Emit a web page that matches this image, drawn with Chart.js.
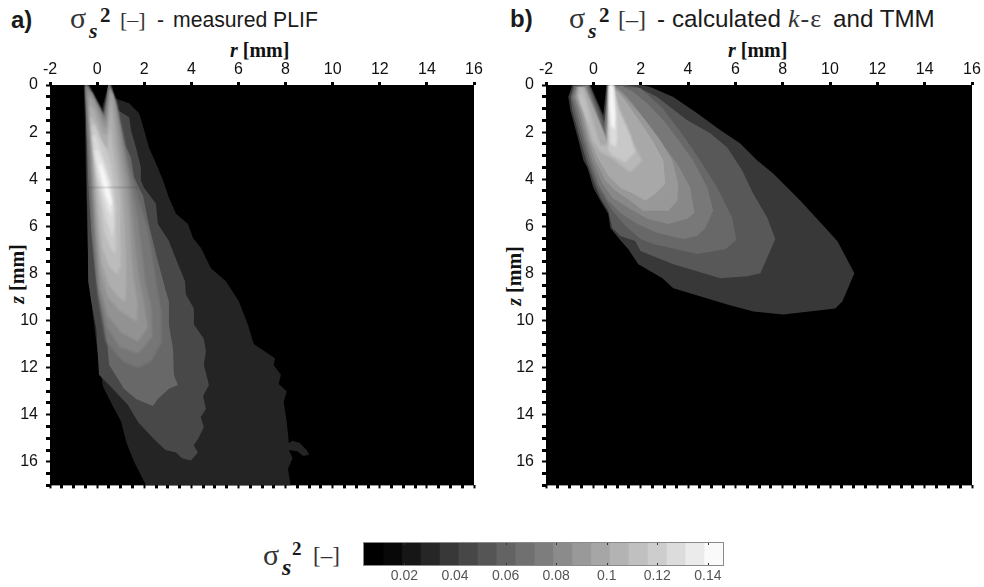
<!DOCTYPE html>
<html lang="en">
<head>
<meta charset="UTF-8">
<title>Mixture fraction variance</title>
<script src="https://cdn.jsdelivr.net/npm/chart.js"></script>
<style>
    html, body { margin: 0; padding: 0; background: #fff; width: 984px; height: 587px; overflow: hidden; }
    canvas { position: absolute; }
    .lbl { position: absolute; white-space: nowrap; color: #1a1a1a; font: 21.2px "Liberation Sans", Arial, sans-serif; line-height: 24px; }
    .big { font-size: 24.2px; }
    .serif { font-family: "Liberation Serif", serif; color: #333; }
    .sub { position: absolute; left: 19px; top: 12px; color: #1a1a1a; font: italic bold 22px "Liberation Serif", serif; }
    .sup { position: absolute; left: 30px; top: -3px; color: #1a1a1a; font: bold 21px "Liberation Serif", serif; }
    .axt { position: absolute; white-space: nowrap; color: #111; font: bold 20px "Liberation Serif", serif; line-height: 20px; }
</style>
</head>
<body>
<div class="lbl" style="left:11px;top:8px;font-size:24px"><b>a)</b></div>
<div class="lbl serif" style="left:70px;top:6px;font-size:30px">σ<span class="sub">s</span><span class="sup">2</span></div>
<div class="lbl serif" style="left:120px;top:8px;font-size:22px">[–]</div>
<div class="lbl" style="left:157px;top:8px">-</div>
<div class="lbl" style="left:173px;top:8px">measured PLIF</div>
<div class="lbl" style="left:510px;top:7px;font-size:24px"><b>b)</b></div>
<div class="lbl serif" style="left:569px;top:6px;font-size:30px">σ<span class="sub">s</span><span class="sup">2</span></div>
<div class="lbl serif" style="left:618px;top:7px;font-size:24px">[–]</div>
<div class="lbl big" style="left:657px;top:7px">-</div>
<div class="lbl big" style="left:672px;top:7px">calculated</div>
<div class="lbl serif" style="left:788px;top:7px;font-size:26px;letter-spacing:1px"><i>k</i>-ε</div>
<div class="lbl big" style="left:833px;top:7px">and TMM</div>
<div class="axt" style="left:230px;top:40px"><i>r</i> [mm]</div>
<div class="axt" style="left:728px;top:40px"><i>r</i> [mm]</div>
<div class="axt" style="left:-13px;top:264px;transform:rotate(-90deg)"><i>z</i> [mm]</div>
<div class="axt" style="left:484px;top:266px;transform:rotate(-90deg)"><i>z</i> [mm]</div>
<div class="lbl serif" style="left:263px;top:543px;font-size:30px">σ<span class="sub" style="top:11px;font-size:24px">s</span><span class="sup" style="top:-5px;left:29px;font-size:19px">2</span></div>
<div class="lbl serif" style="left:313px;top:544px;font-size:23px">[–]</div>

<canvas id="plif" width="492" height="503" style="left:0;top:0"></canvas>
<canvas id="calc" width="488" height="503" style="left:496px;top:0"></canvas>
<canvas id="bar" width="400" height="52" style="left:340px;top:535px"></canvas>

<script>
// contour outlines, [r, z] in mm, outermost first
const plifBand1 = [[-.55,0],[-.47,4.06],[-.42,6.2],[-.34,8.33],[-.17,9.83],[-.04,10.9],[.25,12.8],[.6,13.5],[1.02,14.3],[1.25,15.2],[1.57,16],[2.08,17],[8.22,17],[8.1,16.3],[8.3,15.85],[8.14,15.5],[8.5,15.55],[8.75,15.75],[9,15.7],[8.9,15.5],[8.6,15.2],[8.3,15.1],[8.14,15.2],[8.05,14.3],[7.92,13.46],[8.05,13],[7.71,12.7],[7.8,12.3],[7.5,11.9],[7.55,11.6],[7.25,11.4],[6.65,11],[6.4,10.17],[6.02,9.19],[5.47,8.33],[4.83,7.78],[4.41,6.92],[4.07,6.5],[3.86,5.9],[3.35,5.47],[3.05,4.79],[2.8,4.06],[2.5,3.33],[2.2,2.65],[2,1.92],[1.78,1.2],[1.36,.77],[.72,.55],[.63,0],[.47,0],[.21,.98],[-.34,0]];
const plifBand2 = [[-.5,0],[-.46,1.5],[-.44,4],[-.4,6.2],[-.38,8.33],[-.25,9.19],[-.04,10.34],[.04,11.62],[.08,12.3],[.59,12.82],[1.31,13.59],[1.74,14.32],[2.42,15.04],[2.9,15.5],[3.35,15.6],[3.6,15.85],[3.98,15.94],[4.28,15.6],[4.1,15.3],[4.28,15.04],[4.53,14.53],[4.4,14.1],[4.62,13.76],[4.5,13.2],[4.75,12.74],[4.53,11.88],[4.62,11.3],[4.53,10.77],[4.11,10.17],[4.11,9.49],[3.77,8.89],[3.73,8.33],[3.43,7.6],[3.05,6.62],[2.58,5.9],[2.5,5.04],[1.99,4.36],[1.86,4.06],[1.86,3.5],[1.65,2.65],[1.44,1.92],[1.36,1.37],[.89,1.07],[.68,.77],[.55,0],[.47,0],[.25,1.15],[-.38,0]];
const plifBand3 = [[-.51,.04],[-.38,4.06],[-.25,6.2],[-.04,8.33],[.17,9.32],[.38,10.47],[.51,11.88],[1.14,12.9],[1.65,13.33],[2.37,13.63],[2.58,13.33],[3.05,12.9],[3.43,12.74],[3.26,12.31],[3.22,11.2],[3.05,10.17],[3.05,9.19],[2.92,8.76],[2.5,7.18],[2.16,5.77],[1.95,4.7],[1.57,3.93],[1.44,3.08],[1.02,2.22],[.81,1.2],[.72,.64],[.55,0],[.47,0],[.3,1.28],[-.47,0]];
const plifBand4 = [[-.51,.04],[-.3,4.06],[-.17,6.62],[.04,8.97],[.38,10.9],[1.1,11.75],[1.74,12.01],[2.29,11.75],[2.75,10.9],[2.72,9.6],[2.5,8.3],[2.35,7.26],[2.15,6.11],[1.75,4.83],[1.4,3.55],[1.06,1.92],[.72,.64],[.55,.04],[.3,1.37],[-.47,.04]];
const plifBand5 = [[-.47,.04],[-.25,4.06],[-.08,6.62],[.08,8.76],[.42,10.26],[.93,11.11],[1.74,11.41],[2.35,10.7],[2.3,9.4],[2.05,8.4],[1.9,7.1],[1.75,5.85],[1.5,4.49],[1.2,2.99],[.85,.85],[.55,.04],[.34,1.41],[.17,1.15],[-.38,.04]];
const plifBand6 = [[-.42,.21],[-.21,4.06],[-.04,6.62],[.12,8.55],[.45,9.8],[1,10.5],[1.74,10.9],[2.15,10.3],[1.95,9],[1.75,8],[1.6,6.6],[1.5,5.56],[1.35,4.19],[1.1,2.78],[.76,.64],[.55,.13],[.38,1.58],[.21,1.41],[-.21,.34]];
const plifBand7 = [[-.38,.43],[-.17,3.85],[0,6.41],[.15,7.91],[.45,9],[.95,9.6],[1.7,10.05],[1.72,9.2],[1.55,8.2],[1.45,7.05],[1.35,5.43],[1.2,4.15],[.97,2.78],[.68,.43],[.55,.21],[.42,1.84],[.25,1.71],[-.17,.64]];
const plifBand8 = [[-.34,.85],[-.13,3.85],[.04,5.98],[.18,7.48],[.5,8.5],[.9,9],[1.2,9.2],[1.25,8.4],[1.22,7.05],[1.15,5.4],[1.02,3.97],[.81,2.56],[.59,.64],[.42,2.14],[.21,2.01],[-.17,.98]];
const plifBand9 = [[-.3,1.28],[-.08,3.85],[.08,5.56],[.22,6.9],[.5,7.7],[.85,8.05],[1,7.7],[.98,6.3],[.98,4.95],[.85,3.85],[.68,2.78],[.55,1.71],[.42,2.78],[.17,2.35],[-.08,1.58]];
const plifBand10 = [[-.25,1.71],[-.04,3.85],[.13,4.91],[.3,6.2],[.55,6.9],[.75,7.2],[.8,6.7],[.78,6],[.8,5.2],[.75,4.49],[.59,3.42],[.42,2.78],[.08,2.14],[-.08,1.71]];
const plifBand11 = [[-.21,2.14],[0,3.85],[.21,4.91],[.38,5.7],[.55,6.2],[.65,6.5],[.72,6],[.72,5.3],[.65,4.49],[.42,3.55],[.17,2.78],[-.04,2.14]];
const plifBand12 = [[-.13,2.78],[.08,3.85],[.3,4.79],[.45,5.3],[.6,5.6],[.65,5.2],[.62,4.8],[.51,4.06],[.25,3.29],[.04,2.78]];
const plifBand13 = [[.08,3.42],[.21,4.06],[.38,4.7],[.55,5.13],[.64,5.04],[.51,4.49],[.34,3.85],[.17,3.33]];
const plifGrays = ['#242424','#484848','#686868','#767676','#848484','#929292','#a0a0a0','#aeaeae','#bcbcbc','#cacaca','#d8d8d8','#e6e6e6','#f8f8f8'];
const plifSeam = [[-.4,4.35],[1.75,4.35]];

const calcBand1 = [[-.89,0],[-1.06,.51],[-.97,1.07],[-.63,2.35],[-.42,3.21],[-.25,3.5],[0,4.36],[.3,4.91],[.63,5.47],[.72,6.07],[1.06,6.5],[1.48,6.97],[1.9,7.61],[2.92,8.21],[3.38,8.63],[5.66,9.32],[6.76,9.62],[8.03,9.74],[10.22,9.49],[10.52,9.19],[11.03,7.99],[10.31,6.62],[8.75,4.91],[7.6,3.76],[6.93,3.21],[6.21,2.48],[5.37,1.92],[4.39,1.2],[3.38,.51],[2.41,.09],[1.99,0],[.55,0],[.42,1.28],[-.13,0]];
const calcBand2 = [[-.84,.04],[-.97,.51],[-.89,1.07],[-.55,2.35],[-.3,3.21],[.08,4.27],[.3,4.79],[.63,5.34],[.8,6.07],[1.14,6.41],[1.77,6.62],[1.99,7.05],[3.38,7.61],[5.37,8.21],[6.51,8.12],[7.06,7.99],[7.69,6.54],[7.35,5.64],[6.76,4.62],[6.29,3.63],[5.66,2.65],[4.94,2.05],[3.97,1.5],[2.7,.51],[1.86,.09],[1.35,0],[.59,0],[.46,1.58],[-.17,0]];
const calcBand3 = [[-.8,.04],[-.93,.51],[-.8,1.07],[-.46,2.35],[-.21,3.21],[.17,4.27],[.46,4.79],[.8,5.34],[1.35,5.98],[1.99,6.54],[2.53,6.75],[4.39,7.18],[5.58,6.97],[6.04,6.58],[5.87,5.64],[5.24,4.36],[4.52,3.21],[3.8,2.14],[2.92,.98],[1.99,.13],[.63,.04],[.46,1.84],[-.21,0]];
const calcBand4 = [[-.76,.09],[-.89,.51],[-.72,1.07],[-.38,2.35],[-.13,3.21],[.25,4.27],[.63,4.91],[1.14,5.43],[1.86,5.9],[2.7,6.28],[3.8,6.54],[4.39,6.41],[4.73,6.07],[5.07,5.34],[4.82,4.36],[4.22,3.21],[3.68,2.44],[2.96,1.5],[2.28,.77],[1.69,.3],[1.23,.04],[.63,.04],[.46,2.01],[-.25,.04]];
const calcBand5 = [[-.72,.09],[-.8,.51],[-.63,1.07],[-.3,2.35],[-.04,3.21],[.38,4.19],[.8,4.79],[1.56,5.26],[2.28,5.68],[3.17,5.9],[3.97,5.68],[4.27,5.43],[4.1,4.36],[3.59,3.42],[3.13,2.78],[2.53,2.05],[1.99,1.2],[1.44,.51],[1.06,.13],[.68,.04],[.51,2.14],[-.3,.04]];
const calcBand6 = [[-.68,.09],[-.76,.51],[-.55,1.07],[-.21,2.35],[.08,3.21],[.51,4.06],[.93,4.49],[1.44,4.83],[2.11,5.34],[3.17,5.34],[3.55,4.91],[3.59,4.19],[3.34,3.21],[2.83,2.35],[2.2,1.5],[1.65,.85],[1.14,.3],[.8,.04],[.72,.04],[.55,2.26],[-.34,.09]];
const calcBand7 = [[-.63,.09],[-.68,.51],[-.46,1.07],[-.13,2.35],[.17,3.08],[.63,3.85],[1.14,4.36],[1.69,4.62],[2.2,4.91],[2.62,4.62],[3.04,4.19],[2.96,3.21],[2.49,2.35],[1.99,1.58],[1.48,.85],[1.06,.3],[.76,.09],[.59,2.44],[-.38,.09]];
const calcBand8 = [[-.59,.13],[-.63,.51],[-.38,1.07],[-.04,2.35],[.3,2.86],[.8,3.12],[1.56,3.72],[2.07,3.21],[1.69,2.48],[1.44,1.79],[1.06,.94],[.93,.34],[.72,.09],[.59,2.56],[.3,2.56],[-.42,.13]];
const calcBand9 = [[.8,2.99],[1.35,3.29],[1.77,2.86],[1.56,2.14],[1.14,1.2],[.84,.21],[.68,.13],[.63,2.78]];
const calcBand10 = [[-.59,.34],[-.55,.77],[-.3,1.41],[-.13,1.79],[-.25,1.07],[-.42,.51]];
const calcBand11 = [[.63,0],[.89,0],[.97,1.2],[1.01,2.35],[.93,2.65],[.72,2.48],[.63,1.2]];
const calcBand12 = [[.68,0],[.84,0],[.93,1.28],[.89,1.92],[.76,1.71],[.68,.85]];
const calcGrays = ['#383838','#585858','#686868','#787878','#888888','#989898','#a8a8a8','#b8b8b8','#c8c8c8','#c0c0c0','#dcdcdc','#f6f6f6'];

const rLabels = [-2,0,2,4,6,8,10,12,14,16];
const zLabels = [0,2,4,6,8,10,12,14,16];
const colorbarEdges = [.004,.0115,.0189,.0264,.0339,.0414,.0488,.0563,.0638,.0713,.0787,.0862,.0937,.1011,.1086,.1161,.1236,.131,.1385,.146];
const colorbarGrays = ['#000000','#080808','#161616','#262626','#383838','#474747','#555555','#636363','#707070','#7d7d7d','#8b8b8b','#999999','#a6a6a6','#b3b3b3','#c0c0c0','#cdcdcd','#dcdcdc','#ebebeb','#fafafa'];
const colorbarTicks = [.02,.04,.06,.08,.1,.12,.14];

const plifBands = [plifBand1,plifBand2,plifBand3,plifBand4,plifBand5,plifBand6,plifBand7,plifBand8,plifBand9,plifBand10,plifBand11,plifBand12,plifBand13];
const calcBands = [calcBand1,calcBand2,calcBand3,calcBand4,calcBand5,calcBand6,calcBand7,calcBand8,calcBand9,calcBand10,calcBand11,calcBand12];

const toPoints = band => band.map(p => ({ x: p[0], y: p[1] }));

// black plot background and filled contour polygons, points come from the chart's scales
const contourFill = {
    id: 'contourFill',
    beforeDatasetsDraw(chart) {
        const a = chart.chartArea;
        chart.ctx.fillStyle = '#000';
        chart.ctx.fillRect(a.left, a.top, a.width, a.height);
    },
    afterDatasetDraw(chart, args) {
        const ds = chart.data.datasets[args.index];
        if (!ds.band) return;
        const ctx = chart.ctx, a = chart.chartArea;
        ctx.save();
        ctx.beginPath();
        ctx.rect(a.left, a.top, a.width, a.height);
        ctx.clip();
        ctx.filter = 'blur(' + ds.soften + 'px)';
        ctx.fillStyle = ds.backgroundColor;
        ctx.beginPath();
        args.meta.data.forEach((pt, i) => i ? ctx.lineTo(pt.x, pt.y) : ctx.moveTo(pt.x, pt.y));
        ctx.closePath();
        ctx.fill();
        ctx.restore();
    }
};

const barFrame = {
    id: 'barFrame',
    afterDatasetsDraw(chart) {
        const a = chart.chartArea, ctx = chart.ctx;
        ctx.save();
        ctx.strokeStyle = '#8a8a8a';
        ctx.strokeRect(a.left - .5, a.top - .5, a.width + 1, a.height + 1);
        ctx.strokeStyle = '#333';
        chart.scales.x.ticks.forEach(t => {
            const x = Math.round(chart.scales.x.getPixelForValue(t.value)) + .5;
            ctx.beginPath();
            ctx.moveTo(x, a.top); ctx.lineTo(x, a.top + 2);
            ctx.moveTo(x, a.bottom - 2); ctx.lineTo(x, a.bottom);
            ctx.stroke();
        });
        ctx.restore();
    }
};

function tickWidth(c) {
    return c.tick && Math.abs(c.tick.value % 2) < 1e-6 ? 2 : 3;
}

function makePanel(id, bands, grays, seam, rightPad, softFrom) {
    const datasets = bands.map((band, i) => ({
        band: true,
        soften: i >= softFrom ? 1.2 : .5,
        data: toPoints(band),
        backgroundColor: grays[i],
        showLine: true,
        borderWidth: 0,
        pointRadius: 0,
        order: bands.length - i
    }));
    if (seam) {
        datasets.push({
            data: toPoints(seam),
            showLine: true,
            borderColor: 'rgba(60,60,60,.15)',
            borderWidth: 2,
            pointRadius: 0,
            order: -1
        });
    }
    return new Chart(document.getElementById(id), {
        type: 'scatter',
        data: { datasets },
        plugins: [contourFill],
        options: {
            responsive: false,
            animation: false,
            events: [],
            layout: { padding: { top: 60, right: rightPad, bottom: 5, left: 0 } },
            plugins: { legend: { display: false }, tooltip: { enabled: false } },
            scales: {
                x: {
                    type: 'linear', position: 'top', min: -2, max: 16,
                    afterFit: s => { s.height = 25; },
                    afterBuildTicks: s => { s.ticks = rLabels.map(v => ({ value: v })); },
                    border: { display: false },
                    grid: { drawOnChartArea: false, tickColor: '#000', tickLength: 3, tickWidth: 3 },
                    ticks: { color: '#111', padding: 3, maxRotation: 0, font: { family: 'Liberation Sans', size: 16 } }
                },
                x2: {
                    type: 'linear', position: 'bottom', min: -2, max: 16,
                    afterFit: s => { s.height = 6; },
                    border: { display: false },
                    grid: { drawOnChartArea: false, tickColor: '#000', tickLength: 3, tickWidth },
                    ticks: { stepSize: .5, autoSkip: false, display: false }
                },
                y: {
                    type: 'linear', position: 'left', reverse: true, min: 0, max: 17,
                    afterFit: s => { s.width = 50; },
                    border: { display: false },
                    grid: { drawOnChartArea: false, tickColor: '#000', tickLength: 4, tickWidth },
                    ticks: {
                        stepSize: .5, autoSkip: false, color: '#111', padding: 8,
                        font: { family: 'Liberation Sans', size: 16 },
                        callback: v => zLabels.includes(v) ? String(v) : ''
                    }
                }
            }
        }
    });
}

makePanel('plif', plifBands, plifGrays, plifSeam, 18, 3);
makePanel('calc', calcBands, calcGrays, null, 12, 7);

new Chart(document.getElementById('bar'), {
    type: 'bar',
    data: {
        labels: [''],
        datasets: colorbarGrays.map((g, i) => ({
            data: [[colorbarEdges[i], colorbarEdges[i + 1]]],
            backgroundColor: g,
            grouped: false,
            barPercentage: 1,
            categoryPercentage: 1
        }))
    },
    plugins: [barFrame],
    options: {
        indexAxis: 'y',
        responsive: false,
        animation: false,
        events: [],
        layout: { padding: { top: 8, left: 24, right: 17, bottom: 0 } },
        plugins: { legend: { display: false }, tooltip: { enabled: false } },
        scales: {
            x: {
                type: 'linear', min: .004, max: .146,
                afterFit: s => { s.height = 22; },
                afterBuildTicks: s => { s.ticks = colorbarTicks.map(v => ({ value: v })); },
                border: { display: false },
                grid: { display: false, drawTicks: false },
                ticks: {
                    color: '#555', padding: 3, maxRotation: 0,
                    font: { family: 'Liberation Sans', size: 14 },
                    callback: v => String(v)
                }
            },
            y: { display: false }
        }
    }
});
</script>
</body>
</html>
